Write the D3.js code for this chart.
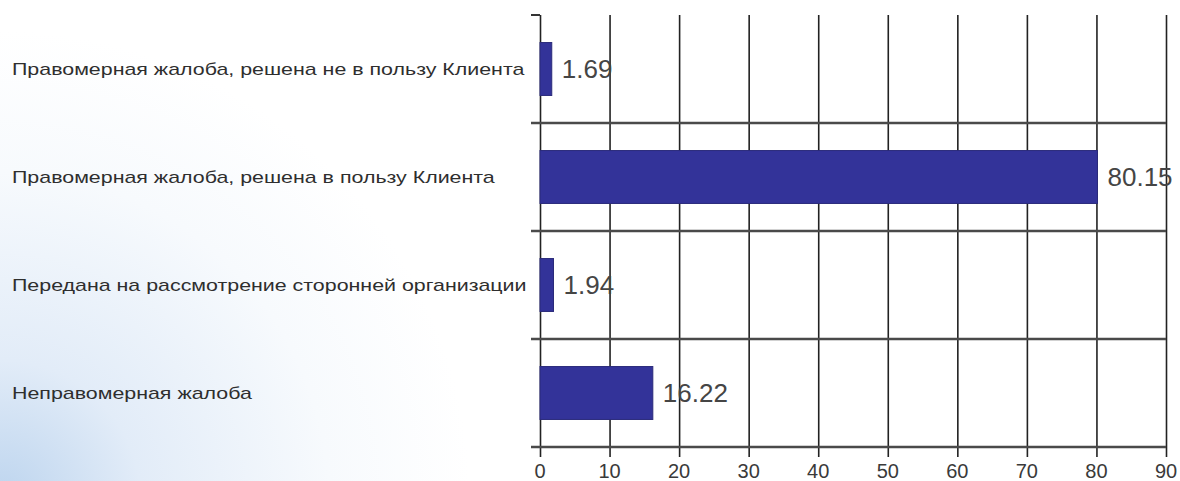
<!DOCTYPE html>
<html>
<head>
<meta charset="utf-8">
<script src="https://cdn.jsdelivr.net/npm/d3@7"></script>
<style>
  html, body { margin: 0; padding: 0; background: #fff; }
  svg { display: block; }
</style>
</head>
<body>
<div id="viz"></div>
<script>
var categories = [
  "Правомерная жалоба, решена не в пользу Клиента",
  "Правомерная жалоба, решена в пользу Клиента",
  "Передана на рассмотрение сторонней организации",
  "Неправомерная жалоба"
];
var values = [1.69, 80.15, 1.94, 16.22];
var xTicks = [0, 10, 20, 30, 40, 50, 60, 70, 80, 90];

var width = 1180,
    height = 481;
var plotLeft = 540, plotRight = 1166, plotTop = 15, plotBottom = 447;

var svg = d3.select("#viz")
  .append("svg")
    .attr("width", width)
    .attr("height", height);

// soft blue wash in the lower left corner
var defs = svg.append("defs");
var grad = defs.append("radialGradient")
    .attr("id", "wash")
    .attr("gradientUnits", "userSpaceOnUse")
    .attr("cx", 0).attr("cy", height + 20)
    .attr("r", 470);
grad.append("stop").attr("offset", "0%").attr("stop-color", "#bcd4ee");
grad.append("stop").attr("offset", "30%").attr("stop-color", "#e2ecf8");
grad.append("stop").attr("offset", "70%").attr("stop-color", "#f7fafd");
grad.append("stop").attr("offset", "100%").attr("stop-color", "#ffffff");

svg.append("rect")
    .attr("width", width)
    .attr("height", height)
    .style("fill", "url(#wash)");

var x = d3.scaleLinear()
    .domain([0, 90])
    .range([plotLeft, plotRight]);

var y = d3.scaleBand()
    .domain(categories)
    .range([plotTop, plotBottom]);

// vertical grid, extends a little under the axis as tick marks
var grid = svg.append("g")
    .attr("transform", "translate(0," + (plotBottom + 10) + ")")
    .call(d3.axisBottom(x).tickValues(xTicks).tickSize(-(plotBottom + 10 - plotTop)).tickFormat(""));
grid.select(".domain").remove();
grid.selectAll("line")
    .style("stroke", "#222")
    .style("stroke-width", "1.6px");

// horizontal separators between the categories
var seps = categories.slice(1).map(function(c) { return y(c); }).concat([plotBottom]);
svg.append("g").selectAll("line")
    .data(seps)
  .enter().append("line")
    .attr("x1", plotLeft - 9)
    .attr("x2", plotRight)
    .attr("y1", function(d) { return d; })
    .attr("y2", function(d) { return d; })
    .style("stroke", "#4a4a4a")
    .style("stroke-width", "2.4px");

svg.append("line")
    .attr("x1", plotLeft - 9)
    .attr("x2", plotLeft)
    .attr("y1", plotTop)
    .attr("y2", plotTop)
    .style("stroke", "#333")
    .style("stroke-width", "2px");

// bars
var barH = y.bandwidth() * 0.49;
svg.append("g").selectAll("rect")
    .data(values)
  .enter().append("rect")
    .attr("x", x(0))
    .attr("y", function(d, i) { return y(categories[i]) + (y.bandwidth() - barH) / 2; })
    .attr("width", function(d) { return x(d) - x(0); })
    .attr("height", barH)
    .style("fill", "#333399")
    .style("stroke", "#2a2a7a")
    .style("stroke-width", "1px");

// value labels
svg.append("g").selectAll("text")
    .data(values)
  .enter().append("text")
    .attr("x", function(d) { return x(d) + 10; })
    .attr("y", function(d, i) { return y(categories[i]) + y.bandwidth() / 2; })
    .attr("dy", "0.36em")
    .style("font-family", "'Liberation Sans', Arial, sans-serif")
    .style("font-size", "26px")
    .style("fill", "#454545")
    .text(function(d) { return d.toFixed(2); });

// category labels, a bit wider than the plain font
var labels = svg.append("g").selectAll("text")
    .data(categories)
  .enter().append("text")
    .attr("y", function(d) { return y(d) + y.bandwidth() / 2; })
    .attr("dy", "0.35em")
    .style("font-family", "'Liberation Sans', Arial, sans-serif")
    .style("font-size", "16px")
    .style("fill", "#2e2e2e")
    .text(function(d) { return d; });

var widest = d3.max(labels.nodes(), function(n) { return n.getComputedTextLength(); });
var sx = (plotLeft - 13 - 12) / widest;
labels.attr("transform", "translate(12,0) scale(" + sx + ",1)");

// x tick labels
svg.append("g").selectAll("text")
    .data(xTicks)
  .enter().append("text")
    .attr("x", function(d) { return x(d); })
    .attr("y", 478)
    .attr("text-anchor", "middle")
    .style("font-family", "'Liberation Sans', Arial, sans-serif")
    .style("font-size", "20px")
    .style("fill", "#3a3a3a")
    .text(function(d) { return d; });
</script>
</body>
</html>
